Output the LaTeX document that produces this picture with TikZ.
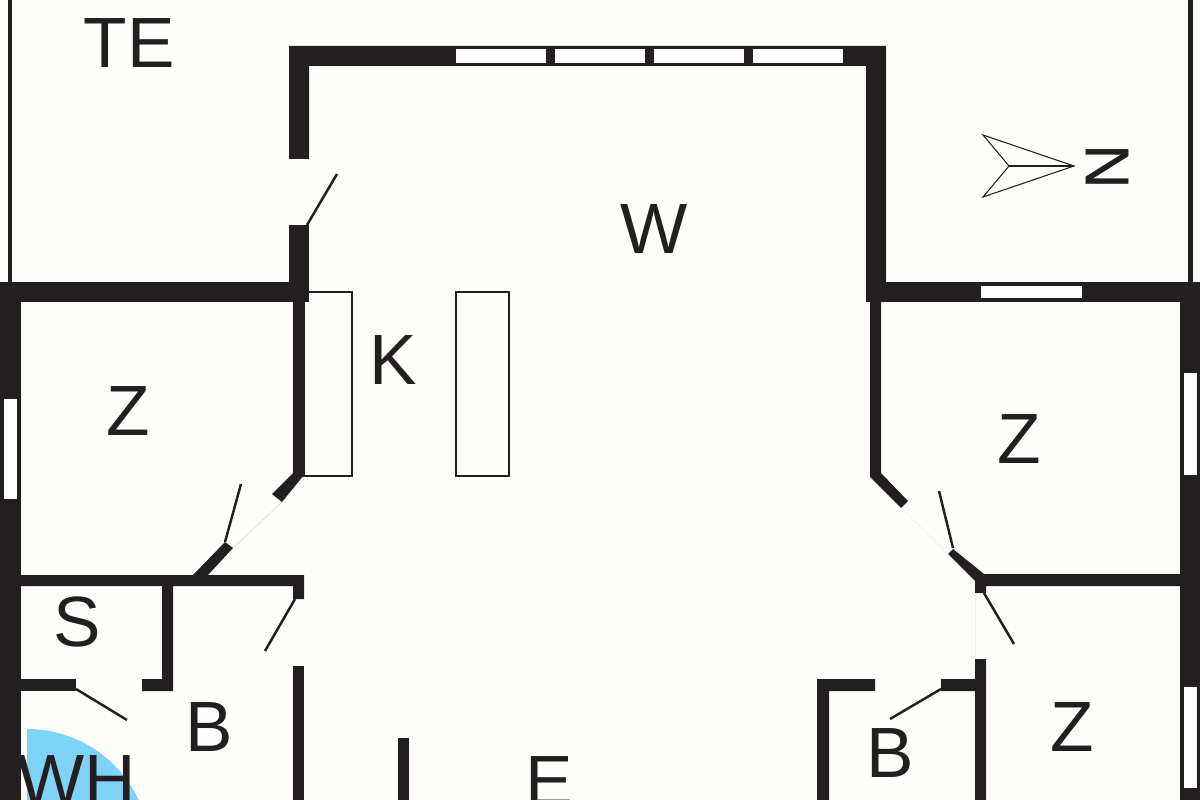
\documentclass[tikz,border=0pt]{standalone}
\usepackage{fontspec}
\setmainfont{Liberation Sans}
\newfontfamily\northfont[FakeBold=0.6]{Liberation Sans}
\definecolor{ink}{HTML}{231F20}
\definecolor{paper}{HTML}{FEFEFA}
\definecolor{wet}{HTML}{7FD3F7}
\tikzset{
  wall/.style={fill=ink,draw=none},
  pane/.style={fill=white,draw=none},
  leaf/.style={draw=ink,line width=1.4pt},
  gap/.style={draw=black!18,line width=0.3pt},
  faintgap/.style={draw=black!7,line width=0.3pt},
  fitment/.style={draw=ink,line width=1pt,fill=none},
  compass/.style={draw=ink,line width=0.6pt,line join=miter},
  room/.style={text=ink,inner sep=0pt,anchor=base,font=\fontsize{40.5}{41}\selectfont},
}
\begin{document}
\begin{tikzpicture}[x=0.02cm,y=-0.02cm]
\useasboundingbox (0,0) rectangle (1200,800);
\clip (0,0) rectangle (1200,800);
\fill[paper] (0,0) rectangle (1200,800);
% wet-room zone
\fill[wet] (27,851) -- (27,729) .. controls (94.4,729) and (150,783.6) .. (150,851) -- cycle;
% thin terrace lines
\fill[wall] (8,0) rectangle (12,284);
\fill[wall] (1188,0) rectangle (1193,284);
% main outer walls
\fill[wall] (289,46) -- (886,46) -- (886,302) -- (866,302) -- (866,66) -- (309,66) -- (309,159) -- (289,159) -- cycle;
\fill[wall] (289,225) rectangle (309,302);
\fill[wall] (0,282) rectangle (309,302);
\fill[wall] (866,282) rectangle (1200,302);
\fill[wall] (0,282) rectangle (20.5,800);
\fill[wall] (1180,282) rectangle (1200,800);
% windows
\fill[pane] (456,49.5) rectangle (546,63);
\fill[pane] (555,49.5) rectangle (645,63);
\fill[pane] (654,49.5) rectangle (744,63);
\fill[pane] (753,49.5) rectangle (843,63);
\fill[pane] (981,286) rectangle (1082,298);
\fill[pane] (4,399) rectangle (17,499);
\fill[pane] (1184,373) rectangle (1197,475);
\fill[pane] (1184,687) rectangle (1197,788);
% inner walls, left
\fill[wall] (293,302) -- (304,302) -- (304,475) -- (282,502) -- (272,494) -- (293,473) -- cycle;
\fill[wall] (225,542) -- (233,548) -- (208,575) -- (193,575) -- cycle;
\fill[wall] (20,575) -- (304,575) -- (304,599) -- (293,599) -- (293,586) -- (20,586) -- cycle;
\fill[wall] (162,586) -- (173,586) -- (173,691) -- (142,691) -- (142,679) -- (162,679) -- cycle;
\fill[wall] (20,679) rectangle (76,691);
\fill[wall] (293,666) rectangle (304,800);
\fill[wall] (398,738) rectangle (409,800);
% inner walls, right
\fill[wall] (870,302) -- (881,302) -- (881,473) -- (908,501) -- (901,508) -- (870,477) -- cycle;
\fill[wall] (953,549) -- (984,574) -- (1180,574) -- (1180,586) -- (986,586) -- (986,593) -- (975,593) -- (975,581) -- (948,554) -- cycle;
\fill[wall] (817,679) -- (875,679) -- (875,691) -- (829,691) -- (829,800) -- (817,800) -- cycle;
\fill[wall] (941,679) -- (975,679) -- (975,659) -- (986,659) -- (986,800) -- (975,800) -- (975,691) -- (941,691) -- cycle;
% door openings
\draw[gap] (233,548) -- (282,502);
\draw[faintgap] (901,508) -- (948,554);
\draw[faintgap] (975,593) -- (975,659);
% door leaves
\draw[leaf] (307,225) -- (337,174);
\draw[leaf] (225,542) -- (241,484);
\draw[leaf] (295,599) -- (265,651);
\draw[leaf] (76,689) -- (127,720);
\draw[leaf] (953,548) -- (939,491);
\draw[leaf] (984,593) -- (1014,644);
\draw[leaf] (941,689) -- (890,719);
% kitchen units
\draw[fitment] (304,292) rectangle (352,476);
\draw[fitment] (456,292) rectangle (509,476);
% compass
\draw[compass] (983,135) -- (1074,166) -- (983,197) -- (1009,166) -- cycle;
\draw[compass] (1009,166) -- (1074,166);
\node[inner sep=0pt,text=ink,rotate=-90,font=\fontsize{35}{35}\selectfont\northfont] (north) at (1107,166.5) {N};
% room labels
\node[room] (te) at (129,68) {TE};
\node[room] (w) at (654,254) {W};
\node[room] (k) at (393,385) {K};
\node[room] (z1) at (128,436) {Z};
\node[room] (z2) at (1019,463) {Z};
\node[room] (s) at (77,646) {S};
\node[room] (b1) at (209,751) {B};
\node[room] (wh) at (77,804) {WH};
\node[room] (e) at (549,805) {E};
\node[room] (b2) at (890,777) {B};
\node[room] (z3) at (1072,751) {Z};
\end{tikzpicture}
\end{document}
